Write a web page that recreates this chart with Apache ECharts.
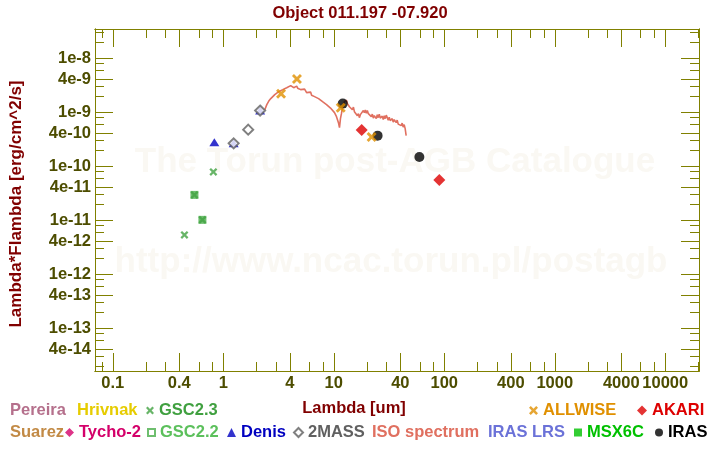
<!DOCTYPE html>
<html><head><meta charset="utf-8">
<script src="https://cdn.jsdelivr.net/npm/echarts@6/dist/echarts.min.js"></script>
<style>html,body{margin:0;padding:0;background:#fff}#c{width:720px;height:450px}</style>
</head><body><div id="c"></div>
<script>
const titleText = 'Object 011.197 -07.920';
const xAxisName = 'Lambda [um]';
const yAxisName = 'Lambda*Flambda [erg/cm^2/s]';
const watermark1 = 'The Torun post-AGB Catalogue';
const watermark2 = 'http://www.ncac.torun.pl/postagb';

const xRange = [0.069, 20200];
const yRange = [1.6e-14, 3.47e-8];
const xTickLabels = ['0.1','0.4','1','4','10','40','100','400','1000','4000','10000'];
const yTickLabels = ['1e-8','4e-9','1e-9','4e-10','1e-10','4e-11','1e-11','4e-12','1e-12','4e-13','1e-13','4e-14'];
const minorMultipliers = [2, 3, 6, 8];
const xDecades = [-2, -1, 0, 1, 2, 3, 4];
const yDecades = [-14, -13, -12, -11, -10, -9, -8];

// photometry
const gsc23Lambda = [0.445, 0.548, 0.647, 0.813];
const gsc23Flux   = [5.32e-12, 2.93e-11, 1.01e-11, 7.81e-11];
const gsc22Lambda = [0.548, 0.647];
const gsc22Flux   = [2.93e-11, 1.01e-11];
const denisLambda = [0.830, 1.241, 2.154];
const denisFlux   = [2.76e-10, 2.64e-10, 1.07e-9];
const tmassLambda = [1.241, 1.680, 2.154];
const tmassFlux   = [2.64e-10, 4.74e-10, 1.07e-9];
const allwiseLambda = [3.331, 4.642, 11.56, 22.0];
const allwiseFlux   = [2.20e-9, 4.12e-9, 1.20e-9, 3.47e-10];
const irasLambda = [12.05, 24.91, 59.5];
const irasFlux   = [1.44e-9, 3.67e-10, 1.48e-10];
const akariLambda = [17.88, 90.2];
const akariFlux   = [4.68e-10, 5.55e-11];

// ISO spectrum
const isoLambda = [2.375,2.476,2.580,2.690,2.804,2.923,3.047,3.176,3.311,3.451,
3.597,3.749,3.908,4.074,4.157,4.246,4.335,4.426,4.519,4.613,
4.710,4.809,5.012,5.117,5.224,5.445,5.676,5.798,5.917,6.168,
6.297,6.429,6.701,6.985,7.281,7.590,7.911,8.246,8.596,8.961,
9.340,9.735,10.15,10.36,10.58,10.80,11.02,11.26,11.49,11.73,
11.98,12.23,12.48,12.75,13.02,13.29,13.57,13.85,14.14,14.74,
15.05,15.37,16.02,16.35,16.70,17.04,17.40,18.14,18.52,18.91,
19.30,19.71,20.12,20.54,21.41,21.86,22.32,22.79,23.26,24.25,
24.75,25.27,25.80,26.35,27.46,28.04,28.63,29.23,29.84,31.11,
31.76,32.42,33.80,34.50,35.23,36.72,37.49,38.28,39.90,40.74,
41.59,42.46,43.35,44.26,45.19];
const isoFlux = [1.11e-9,1.38e-9,1.60e-9,1.78e-9,1.90e-9,2.11e-9,2.15e-9,2.40e-9,2.40e-9,2.61e-9,
2.61e-9,2.84e-9,2.78e-9,3.10e-9,2.90e-9,3.16e-9,2.84e-9,3.03e-9,2.72e-9,3.03e-9,
2.78e-9,2.90e-9,2.61e-9,2.84e-9,2.56e-9,2.67e-9,2.30e-9,2.50e-9,2.20e-9,2.35e-9,
2.06e-9,2.20e-9,1.94e-9,2.02e-9,1.78e-9,1.78e-9,1.56e-9,1.53e-9,1.38e-9,1.35e-9,
1.19e-9,1.14e-9,9.79e-10,1.02e-9,8.25e-10,7.91e-10,6.39e-10,5.16e-10,7.58e-10,9.38e-10,
1.21e-9,1.38e-9,1.56e-9,1.44e-9,1.67e-9,1.44e-9,1.50e-9,1.26e-9,1.35e-9,1.11e-9,
1.24e-9,1.02e-9,1.02e-9,8.61e-10,9.38e-10,7.91e-10,8.99e-10,8.43e-10,1.07e-9,9.79e-10,
1.09e-9,9.58e-10,1.07e-9,9.38e-10,9.79e-10,8.25e-10,9.18e-10,7.74e-10,8.61e-10,7.58e-10,
8.99e-10,7.91e-10,9.18e-10,7.74e-10,8.43e-10,7.26e-10,8.61e-10,7.58e-10,8.80e-10,7.11e-10,
8.08e-10,6.96e-10,7.58e-10,6.53e-10,7.26e-10,6.39e-10,7.11e-10,6.00e-10,6.53e-10,5.62e-10,
6.26e-10,5.28e-10,5.87e-10,4.95e-10,3.67e-10];

const L = Math.log10;
const pts = (xs, ys) => xs.map((x, i) => [L(x), L(ys[i])]);

const FONT = '"Liberation Sans", Arial, sans-serif';
const FS = 16.5;
const axisColor = '#808000';
const labelColor = '#4d4d00';
const nameColor = '#800000';

const xMajor = xTickLabels.map(s => L(parseFloat(s)));
const yMajor = yTickLabels.map(s => L(parseFloat(s)));
const minorOf = (decs, lo, hi) => {
  const out = [];
  decs.forEach(d => minorMultipliers.forEach(m => { const v = d + L(m); if (v > lo && v < hi) out.push(v); }));
  return out;
};
const xMin = L(xRange[0]), xMax = L(xRange[1]);
const yMin = L(yRange[0]), yMax = L(yRange[1]);
const xMinor = minorOf(xDecades, xMin, xMax);
const yMinor = minorOf(yDecades, yMin, yMax);
const fmt = (labels, vals) => v => { const i = vals.findIndex(t => Math.abs(t - v) < 1e-6); return i >= 0 ? labels[i] : ''; };

function axis(kind, pos, ticks, len, withLabels) {
  const a = {
    type: 'value', position: pos,
    min: kind === 'x' ? xMin : yMin, max: kind === 'x' ? xMax : yMax,
    axisLine: { show: true, onZero: false, lineStyle: { color: axisColor, width: 1 } },
    axisTick: { show: true, inside: true, length: len, customValues: ticks, lineStyle: { color: axisColor, width: 1 } },
    axisLabel: { show: false },
    splitLine: { show: false }
  };
  if (withLabels) {
    a.axisLabel = {
      show: true, customValues: ticks, margin: 4,
      formatter: kind === 'x' ? fmt(xTickLabels, xMajor) : fmt(yTickLabels, yMajor),
      color: labelColor, fontSize: FS, fontWeight: 'bold', fontFamily: FONT
    };
  }
  return a;
}

const xAx0 = axis('x', 'bottom', xMajor, 18, true);
xAx0.name = xAxisName;
xAx0.nameLocation = 'middle';
xAx0.nameGap = 29;
xAx0.nameTextStyle = { color: nameColor, fontSize: FS, fontWeight: 'bold', fontFamily: FONT, padding: [0, 86, 0, 0] };
const yAx0 = axis('y', 'left', yMajor, 18, true);
yAx0.name = yAxisName;
yAx0.nameLocation = 'middle';
yAx0.nameGap = 70;
yAx0.nameTextStyle = { color: nameColor, fontSize: 17, fontWeight: 'bold', fontFamily: FONT, padding: [0, 8, 0, 0] };

const cross = 'path://M0,2L2,0L5,3L8,0L10,2L7,5L10,8L8,10L5,7L2,10L0,8L3,5Z';

const series = [
  { name: 'ISO spectrum', type: 'line', data: pts(isoLambda, isoFlux), showSymbol: false, symbol: 'none',
    lineStyle: { color: '#e07060', width: 1.6 }, itemStyle: { color: '#e07060' }, z: 1 },
  { name: 'IRAS LRS', type: 'line', data: [], symbol: 'none', itemStyle: { color: '#6b72d8' } },
  { name: 'Pereira', type: 'scatter', data: [], itemStyle: { color: '#b5708c' } },
  { name: 'Hrivnak', type: 'scatter', data: [], itemStyle: { color: '#e6cc00' } },
  { name: 'Suarez', type: 'scatter', data: [], itemStyle: { color: '#c28a45' } },
  { name: 'Tycho-2', type: 'scatter', data: [], symbol: 'diamond', itemStyle: { color: '#d4006a' } },
  { name: 'MSX6C', type: 'scatter', data: [], symbol: 'rect', itemStyle: { color: '#00c000' } },
  { name: 'GSC2.2', type: 'scatter', data: pts(gsc22Lambda, gsc22Flux), symbol: 'rect', symbolSize: 8,
    itemStyle: { color: '#4aae4a' }, z: 3 },
  { name: 'GSC2.3', type: 'scatter', data: pts(gsc23Lambda, gsc23Flux), symbol: cross, symbolSize: 8,
    itemStyle: { color: '#42a342' }, z: 4 },
  { name: 'Denis', type: 'scatter', data: pts(denisLambda, denisFlux), symbol: 'triangle', symbolSize: [10, 8],
    itemStyle: { color: '#0000c0' }, z: 3 },
  { name: '2MASS', type: 'scatter', data: pts(tmassLambda, tmassFlux), symbol: 'emptyDiamond', symbolSize: 10,
    itemStyle: { color: '#606060', borderColor: '#606060', borderWidth: 1.5 }, z: 4 },
  { name: 'IRAS', type: 'scatter', data: pts(irasLambda, irasFlux), symbol: 'circle', symbolSize: 10,
    itemStyle: { color: '#000000' }, z: 3 },
  { name: 'ALLWISE', type: 'scatter', data: pts(allwiseLambda, allwiseFlux), symbol: cross, symbolSize: 10,
    itemStyle: { color: '#e09000' }, z: 4 },
  { name: 'AKARI', type: 'scatter', data: pts(akariLambda, akariFlux), symbol: 'diamond', symbolSize: 12,
    itemStyle: { color: '#dd0000' }, z: 3 }
];

// legend entries: name, colour, icon, icon size, left, top
const legendItems = [
  ['Pereira', '#b5708c', 'none', 0, 5, 402],
  ['Hrivnak', '#e6cc00', 'none', 0, 72, 402],
  ['GSC2.3', '#40a040', null, 8, 146, 402],
  ['ALLWISE', '#e09000', null, 9, 529, 402],
  ['AKARI', '#dd0000', null, 10, 637, 402],
  ['Suarez', '#c28a45', 'none', 0, 5, 424],
  ['Tycho-2', '#d4006a', null, 9, 65, 424],
  ['GSC2.2', '#5cc05c', 'emptyRect', 7, 147, 424],
  ['Denis', '#0000c0', null, 9, 227, 424],
  ['2MASS', '#606060', null, 9, 293, 424],
  ['ISO spectrum', '#e07060', 'none', 0, 367, 424],
  ['IRAS LRS', '#6b72d8', 'none', 0, 483, 424],
  ['MSX6C', '#00c000', null, 8, 574, 424],
  ['IRAS', '#000000', null, 8, 655, 424]
];
const legends = legendItems.map(([name, color, icon, size, left, top]) => {
  const d = { name, textStyle: { color } };
  if (icon) d.icon = icon;
  return {
    data: [d], left, top, padding: 0, selectedMode: false,
    itemWidth: size, itemHeight: size || 8,
    textStyle: { fontSize: FS, fontWeight: 'bold', fontFamily: FONT }
  };
});

const chart = echarts.init(document.getElementById('c'), null, { renderer: 'canvas' });
chart.setOption({
  animation: false,
  backgroundColor: '#ffffff',
  title: { text: titleText, left: 'center', top: 0,
    textStyle: { color: nameColor, fontSize: FS, fontWeight: 'bold', fontFamily: FONT } },
  grid: { left: 92, right: 21, top: 29, bottom: 79, containLabel: false },
  xAxis: [xAx0, axis('x', 'bottom', xMinor, 9, false), axis('x', 'top', xMajor, 18, false), axis('x', 'top', xMinor, 9, false)],
  yAxis: [yAx0, axis('y', 'left', yMinor, 9, false), axis('y', 'right', yMajor, 18, false), axis('y', 'right', yMinor, 9, false)],
  legend: legends,
  graphic: [
    { type: 'text', x: 395, y: 162, z: -10, silent: true,
      style: { text: watermark1, fill: '#faf8f3', font: 'bold 35px ' + FONT, align: 'center', verticalAlign: 'middle' } },
    { type: 'text', x: 391, y: 262, z: -10, silent: true,
      style: { text: watermark2, fill: '#faf8f3', font: 'bold 35px ' + FONT, align: 'center', verticalAlign: 'middle' } }
  ],
  series
});
</script></body></html>
